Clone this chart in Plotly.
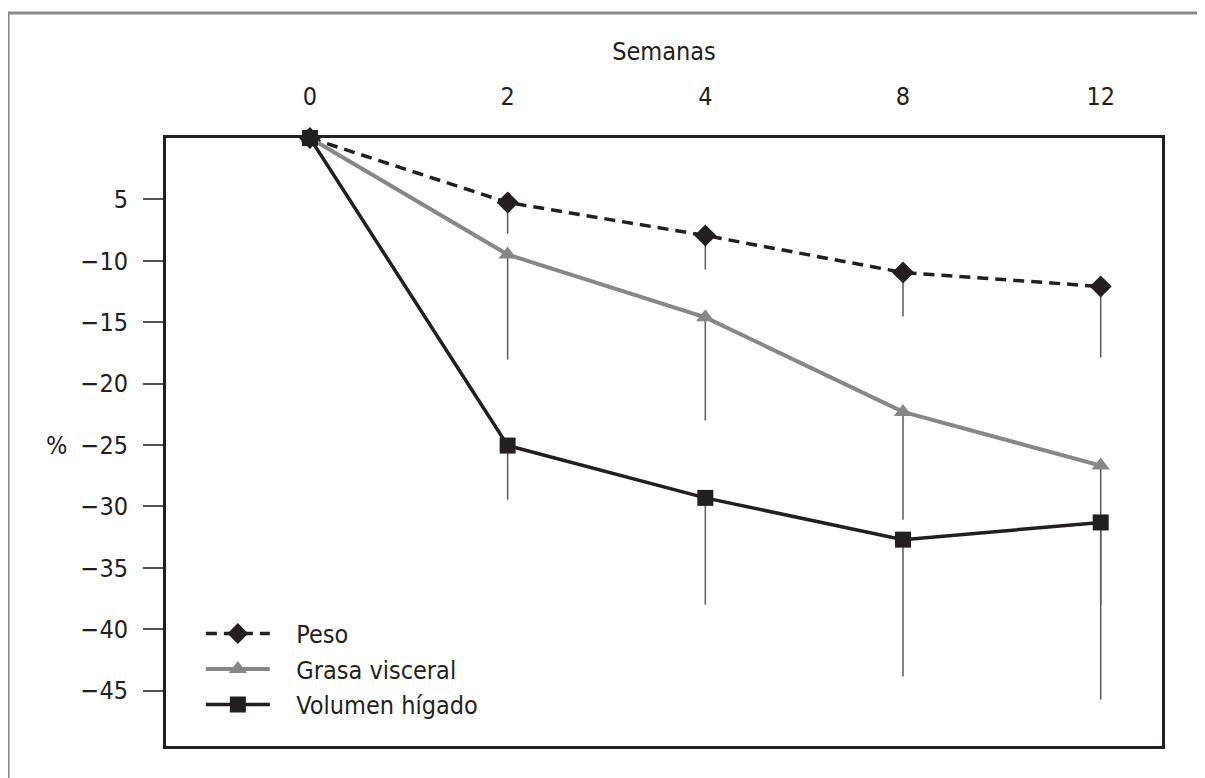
import plotly.graph_objects as go

semanas = ["0", "2", "4", "8", "12"]

peso = [0, -5.25, -7.94, -10.95, -12.09]
peso_low = [0, -7.78, -10.71, -14.54, -17.87]

grasa = [0, -9.49, -14.6, -22.3, -26.67]
grasa_low = [0, -18.04, -23.0, -31.07, -38.0]

higado = [0, -25.04, -29.3, -32.7, -31.3]
higado_low = [0, -29.44, -37.99, -43.85, -45.72]

ytick_vals = [-5, -10, -15, -20, -25, -30, -35, -40, -45]
ytick_text = ["5", "\u221210", "\u221215", "\u221220", "\u221225", "\u221230", "\u221235", "\u221240", "\u221245"]

FONT = "DejaVu Sans Condensed, Liberation Sans Narrow, Arial Narrow, sans-serif"
FS = 25
BLACK = "#231f20"
GRAY = "#878787"
ERR = "#5a5a5a"
NB = "\u00a0\u00a0\u00a0"


def minus(vals, lows):
    return [v - l for v, l in zip(vals, lows)]


fig = go.Figure()
fig.add_trace(go.Scatter(
    x=semanas, y=peso, name=NB + "Peso", mode="lines+markers",
    line=dict(color=BLACK, width=3.5, dash="11px,7px"),
    marker=dict(symbol="diamond", size=17, color=BLACK),
    error_y=dict(type="data", symmetric=False, array=[0] * 5,
                 arrayminus=minus(peso, peso_low), width=0, thickness=1.5, color=ERR),
    cliponaxis=False, legendgroup="a",
))
fig.add_trace(go.Scatter(
    x=semanas, y=grasa, name=NB + "Grasa visceral", mode="lines+markers",
    line=dict(color=GRAY, width=4),
    marker=dict(symbol="triangle-up", size=16, color=GRAY),
    error_y=dict(type="data", symmetric=False, array=[0] * 5,
                 arrayminus=minus(grasa, grasa_low), width=0, thickness=1.5, color=ERR),
    cliponaxis=False, legendgroup="b",
))
fig.add_trace(go.Scatter(
    x=semanas, y=higado, name=NB + "Volumen hígado", mode="lines+markers",
    line=dict(color=BLACK, width=3.5),
    marker=dict(symbol="square", size=16, color=BLACK),
    error_y=dict(type="data", symmetric=False, array=[0] * 5,
                 arrayminus=minus(higado, higado_low), width=0, thickness=1.5, color=ERR),
    cliponaxis=False, legendgroup="c",
))

# page body has an 8px margin: shrink figure and shift margins accordingly
fig.update_layout(
    width=1197, height=770,
    margin=dict(l=158, r=43, t=130, b=32),
    paper_bgcolor="white", plot_bgcolor="white",
    font=dict(family=FONT, size=FS, color=BLACK),
    showlegend=True,
    legend=dict(x=0.035, y=0.03, xanchor="left", yanchor="bottom",
                bgcolor="rgba(0,0,0,0)", font=dict(size=FS, family=FONT, color=BLACK),
                itemwidth=64, tracegroupgap=3, traceorder="normal"),
    xaxis=dict(
        type="category", categoryorder="array", categoryarray=semanas,
        side="top", range=[-0.728, 4.31],
        showgrid=False, zeroline=False, showline=True, linecolor=BLACK, linewidth=3,
        mirror=True, ticks="", ticklabelstandoff=20,
        title=dict(text="Semanas", standoff=15, font=dict(size=FS, family=FONT)),
        tickfont=dict(size=FS, family=FONT),
    ),
    yaxis=dict(
        range=[-49.5, 0],
        showgrid=False, zeroline=False, showline=True, linecolor=BLACK, linewidth=3,
        mirror=True, ticks="outside", ticklen=20, tickwidth=1.5, tickcolor="#555",
        tickvals=ytick_vals, ticktext=ytick_text, ticklabelstandoff=10,
        tickfont=dict(size=FS, family=FONT),
    ),
    annotations=[dict(text="%", xref="paper", yref="y", x=-0.122, y=-25,
                      showarrow=False, font=dict(size=FS, family=FONT, color=BLACK))],
    shapes=[dict(type="rect", xref="paper", yref="paper",
                 x0=-0.1586, x1=1.3, y0=-0.3, y1=1.2056,
                 line=dict(color="#8a8a8a", width=3), layer="below")],
)

fig.write_html("out.html")
